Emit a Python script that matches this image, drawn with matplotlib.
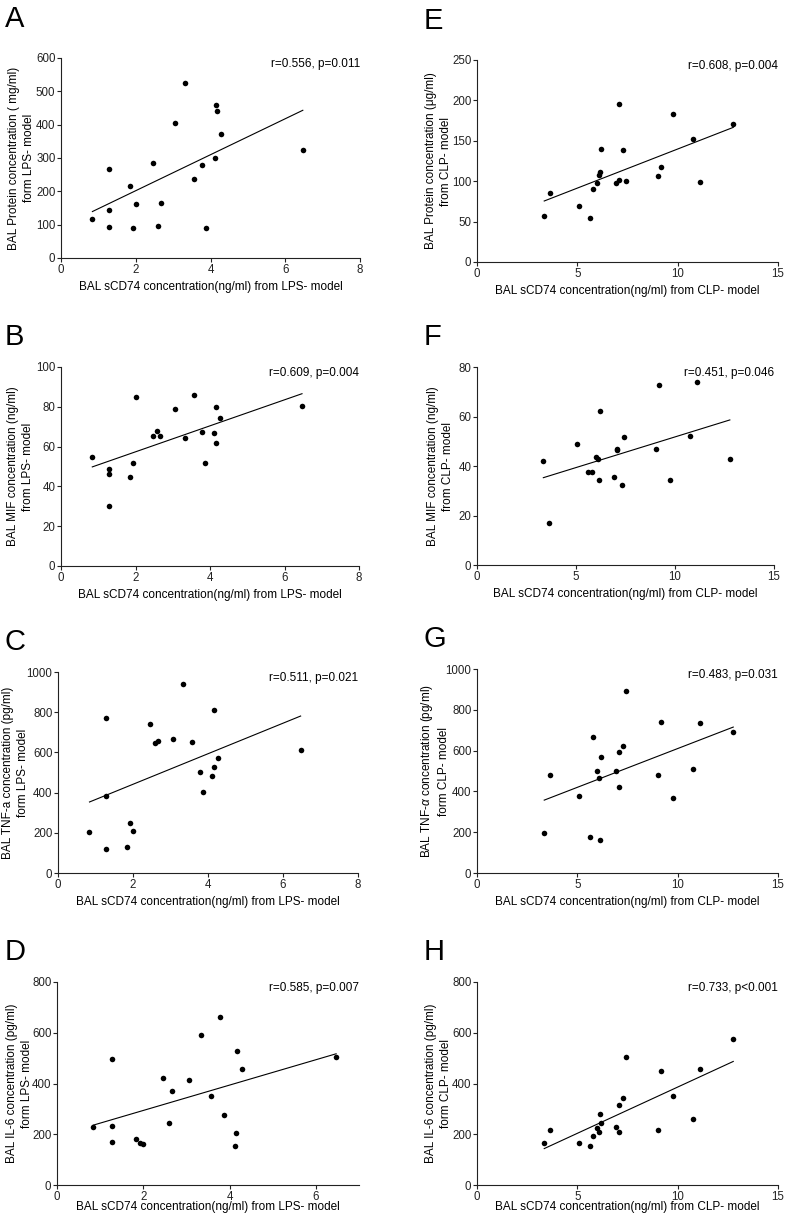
import numpy as np
import matplotlib
matplotlib.use("Agg")
import matplotlib.pyplot as plt

plt.rcParams['font.family'] = ['Liberation Sans', 'DejaVu Sans']
plt.rcParams['mathtext.fontset'] = 'custom'
plt.rcParams['mathtext.it'] = 'Liberation Sans:italic'

# sCD74 in BAL, LPS model (same 20 samples in A-D)
lps_x = [0.84, 1.28, 1.28, 1.28, 1.84, 1.93, 2.00, 2.46, 2.59, 2.67,
         3.06, 3.33, 3.57, 3.78, 3.87, 4.12, 4.16, 4.17, 4.28, 6.47]
protein_lps = [116, 267, 143, 93, 215, 90, 162, 284, 96, 166,
               406, 524, 237, 280, 90, 300, 458, 441, 372, 323]
mif_lps = [55.0, 48.8, 46.2, 30.1, 44.5, 51.8, 84.8, 65.1, 67.7, 65.1,
           79.1, 64.4, 86.1, 67.4, 51.8, 66.9, 79.9, 62.0, 74.4, 80.4]
tnf_lps = [205, 770, 385, 117, 127, 247, 208, 740, 647, 657,
           665, 940, 650, 502, 405, 483, 812, 528, 570, 612]
il6_lps = [228, 498, 234, 169, 182, 166, 162, 421, 243, 371,
           415, 591, 352, 664, 277, 154, 206, 529, 459, 503]

# sCD74 in BAL, CLP model (E-H)
clp_x = [3.35, 3.66, 5.06, 5.61, 5.80, 5.99, 6.10, 6.14, 6.19, 6.92,
         7.08, 7.08, 7.30, 7.41, 9.04, 9.19, 9.75, 10.75, 11.11, 12.77]
protein_clp = [57.4, 85.5, 69.4, 54.1, 90.5, 97.9, 107.9, 111, 140, 98.3,
               102, 195, 139, 100.4, 107, 117.4, 183, 151.7, 98.8, 170.7]
mif_clp = [41.9, 16.8, 49.0, 37.7, 37.7, 43.8, 42.8, 34.4, 62.1, 35.4,
           47.0, 46.6, 32.5, 51.7, 46.7, 72.6, 34.5, 52.1, 74.0, 42.7]
tnf_clp = [194, 481, 379, 177, 668, 499, 466, 163, 568, 501,
           594, 424, 624, 890, 481, 742, 368, 511, 736, 693]
il6_clp = [164, 218, 166, 154, 194, 223, 210, 279, 243, 227,
           209, 316, 341, 503, 218, 450, 350, 261, 459, 576]

W, H = 787, 1217
xlab_lps = "BAL sCD74 concentration(ng/ml) from LPS- model"
xlab_clp = "BAL sCD74 concentration(ng/ml) from CLP- model"

# letter, x, y, ylabel, xlabel, stats, xmax, xticks, ymax, yticks,
# box (left, right, top, bottom px), ylabel right edge px, xlabel pad
panels = [
    ("A", lps_x, protein_lps, "BAL Protein concentration ( mg/ml)\nform LPS- model", xlab_lps,
     "r=0.556, p=0.011", 8, [0, 2, 4, 6, 8], 600, np.arange(0, 601, 100), (61, 360, 58, 258), 35, 4),
    ("B", lps_x, mif_lps, "BAL MIF concentration (ng/ml)\nfrom LPS- model", xlab_lps,
     "r=0.609, p=0.004", 8, [0, 2, 4, 6, 8], 100, np.arange(0, 101, 20), (61, 359, 367, 566), 34, 4),
    ("C", lps_x, tnf_lps, "BAL TNF-a concentration (pg/ml)\nform LPS- model", xlab_lps,
     "r=0.511, p=0.021", 8, [0, 2, 4, 6, 8], 1000, np.arange(0, 1001, 200), (58, 358, 672, 873), 29, 4),
    ("D", lps_x, il6_lps, "BAL IL-6 concentration (pg/ml)\nform LPS- model", xlab_lps,
     "r=0.585, p=0.007", 7, [0, 2, 4, 6], 800, np.arange(0, 801, 200), (57, 359, 982, 1185), 33, -1),
    ("E", clp_x, protein_clp, "BAL Protein concentration (\u03bcg/ml)\nfrom CLP- model", xlab_clp,
     "r=0.608, p=0.004", 15, [0, 5, 10, 15], 250, np.arange(0, 251, 50), (477, 778, 60, 262), 452, 4),
    ("F", clp_x, mif_clp, "BAL MIF concentration (ng/ml)\nfrom CLP- model", xlab_clp,
     "r=0.451, p=0.046", 15, [0, 5, 10, 15], 80, np.arange(0, 81, 20), (477, 774, 367, 565), 454, 4),
    ("G", clp_x, tnf_clp, "BAL TNF-$\\alpha$ concentration (pg/ml)\nform CLP- model", xlab_clp,
     "r=0.483, p=0.031", 15, [0, 5, 10, 15], 1000, np.arange(0, 1001, 200), (477, 778, 669, 873), 450, 4),
    ("H", clp_x, il6_clp, "BAL IL-6 concentration (pg/ml)\nform CLP- model", xlab_clp,
     "r=0.733, p<0.001", 15, [0, 5, 10, 15], 800, np.arange(0, 801, 200), (477, 778, 982, 1185), 452, -1),
]

fig = plt.figure(figsize=(W / 100, H / 100), dpi=100)

for letter, x, y, ylab, xlab, stat, xmax, xt, ymax, yt, box, ylx, xpad in panels:
    l, r, t, b = box
    ax = fig.add_axes([l / W, 1 - b / H, (r - l) / W, (b - t) / H])
    x = np.array(x)
    y = np.array(y)
    ax.plot(x, y, 'o', color='black', ms=4, mew=0)
    k, c = np.polyfit(x, y, 1)
    xx = np.array([x.min(), x.max()])
    ax.plot(xx, k * xx + c, color='black', lw=0.8)
    ax.set_xlim(0, xmax)
    ax.set_ylim(0, ymax)
    ax.set_xticks(xt)
    ax.set_yticks(yt)
    for s in ['top', 'right']:
        ax.spines[s].set_visible(False)
    for s in ['left', 'bottom']:
        ax.spines[s].set_linewidth(0.8)
        ax.spines[s].set_color('#222222')
    ax.tick_params(direction='out', length=3, width=0.8, labelsize=8.3, pad=1, colors='#222222')
    ax.set_xlabel(xlab, fontsize=8.5, labelpad=xpad)
    ax.set_ylabel(ylab, fontsize=8.5, linespacing=1.35)
    ax.yaxis.set_label_coords(-(l - ylx) / (r - l), 0.5)
    ax.text(1.0, 0.97, stat, transform=ax.transAxes, ha='right', va='center', fontsize=8.5)
    # panel letter
    lx = 5 if l < 200 else 424
    fig.text(lx / W, 1 - (t - 53) / H if letter in "AE" else 1 - (t - 44) / H, letter,
             fontsize=21, ha='left', va='top')

fig.savefig("out.png", dpi=100)
